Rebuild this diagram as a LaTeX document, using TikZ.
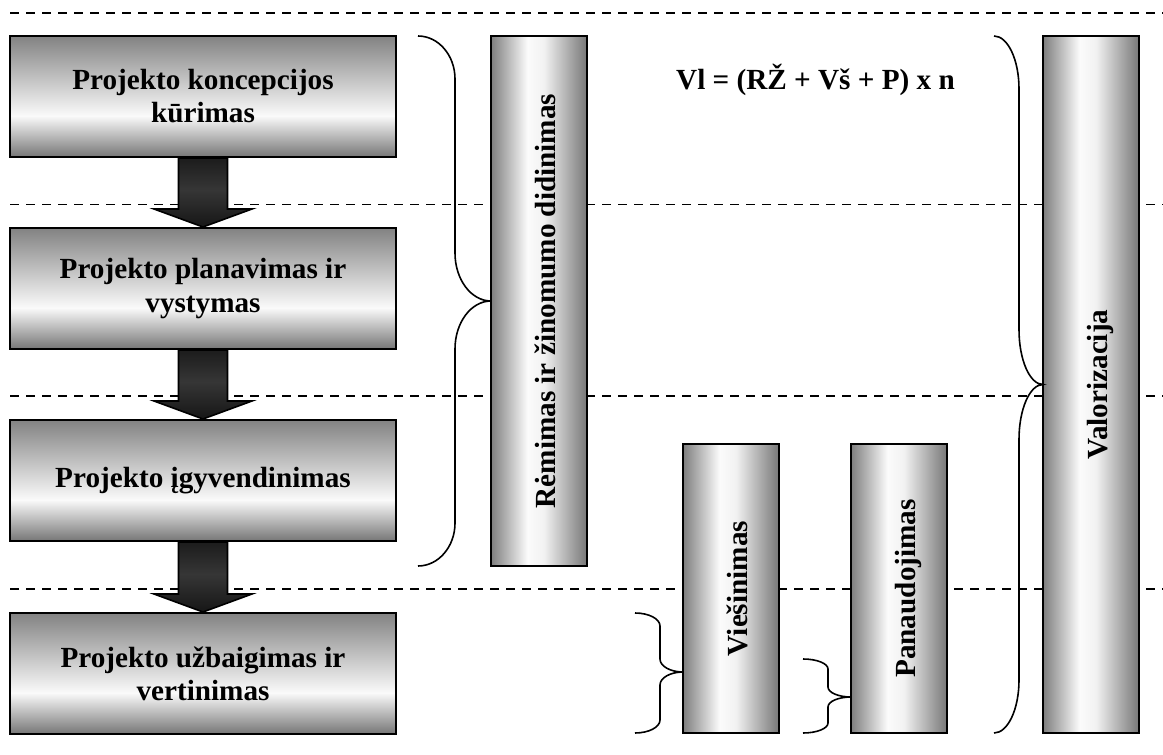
\documentclass[tikz,border=0pt]{standalone}
\usepackage{fontspec}
\setmainfont{Liberation Serif}
\usetikzlibrary{calc}

% gray tones of the stage boxes (vertical gradient)
\definecolor{boxtop}{HTML}{828282}
\definecolor{boxmid}{HTML}{FAFAFA}
\definecolor{boxbot}{HTML}{767676}
% gray tones of the vertical bars (horizontal gradient)
\definecolor{barleft}{HTML}{7E7E7E}
\definecolor{barmid}{HTML}{FBFBFB}
\definecolor{barmidb}{HTML}{F2F2F2}
\definecolor{barright}{HTML}{777777}
% dark block arrows
\definecolor{arrtop}{HTML}{1C1C1C}
\definecolor{arrmid}{HTML}{363636}
\definecolor{arrbot}{HTML}{161616}

\pgfdeclareverticalshading{boxshade}{100bp}{color(0bp)=(boxbot); color(25bp)=(boxbot); color(42bp)=(boxmid); color(75bp)=(boxtop); color(100bp)=(boxtop)}
\pgfdeclarehorizontalshading{barshade}{100bp}{color(0bp)=(barleft); color(25bp)=(barleft); color(44bp)=(barmid); color(52.5bp)=(barmidb); color(75bp)=(barright); color(100bp)=(barright)}
\pgfdeclareverticalshading{arrowshade}{100bp}{color(0bp)=(arrbot); color(25bp)=(arrbot); color(52bp)=(arrmid); color(75bp)=(arrtop); color(100bp)=(arrtop)}

\tikzset{
  stagebox/.style={draw=black, line width=1.5pt, shading=boxshade,
    minimum width=289.5pt, minimum height=90.75pt, inner sep=0pt, align=center},
  phasebar/.style={draw=black, line width=1.5pt, shading=barshade,
    minimum width=72pt, inner sep=0pt},
  vlabel/.style={rotate=90, anchor=base, inner sep=0pt},
  blockarrow/.style={draw=black, line width=1.2pt, shading=arrowshade},
  guide/.style={draw=black, line width=1.1pt, dash pattern=on 7pt off 5pt},
  bracestyle/.style={draw=black, line width=1.2pt},
}

% curly brace opening to the right:
% #1 outer x, #2 spine x, #3 tip x, #4 top y, #5 tip y, #6 bottom y,
% #7 end curl height, #8 tip curl height
\newcommand{\curlybrace}[8]{%
  \draw[bracestyle] (#1,#4)
    .. controls ({#1+0.552*(#2-#1)},#4) and (#2,{#4+0.448*#7}) .. (#2,{#4+#7})
    -- (#2,{#5-#8})
    .. controls (#2,{#5-0.448*#8}) and ({#3-0.552*(#3-#2)},#5) .. (#3,#5)
    .. controls ({#3-0.552*(#3-#2)},#5) and (#2,{#5+0.448*#8}) .. (#2,{#5+#8})
    -- (#2,{#6-#7})
    .. controls (#2,{#6-0.448*#7}) and ({#1+0.552*(#2-#1)},#6) .. (#1,#6);%
}

% block arrow from the bottom of one stage to the top of the next
\newcommand{\stagearrow}[2]{%
  \draw[blockarrow] ($(#1.south)+(-24.5,0)$) -- ($(#2.north)+(-24.5,-18)$)
    -- ($(#2.north)+(-49,-18)$) -- (#2.north) -- ($(#2.north)+(49,-18)$)
    -- ($(#2.north)+(24.5,-18)$) -- ($(#1.south)+(24.5,0)$) -- cycle;%
}

\begin{document}
\begin{tikzpicture}[x=0.75pt, y=-0.75pt,
  font=\bfseries\fontsize{21.9pt}{24.8pt}\selectfont]
\useasboundingbox (0,0) rectangle (1163,755);

% phase separators
\draw[guide] (10,13) -- (1163,13);
\draw[guide] (10,204.5) -- (1163,204.5);
\draw[guide] (10,396) -- (1163,396);
\draw[guide] (10,589) -- (1163,589);

% project stages
\node[stagebox] (s1) at (203,96.5)  {Projekto koncepcijos\\kūrimas};
\node[stagebox] (s2) at (203,288.5) {Projekto planavimas ir\\vystymas};
\node[stagebox] (s3) at (203,480.5) {Projekto įgyvendinimas};
\node[stagebox] (s4) at (203,673.5) {Projekto užbaigimas ir\\vertinimas};

\stagearrow{s1}{s2}
\stagearrow{s2}{s3}
\stagearrow{s3}{s4}

% activity bars
\node[phasebar, minimum height=397.5pt] (rem) at (539,301) {};
\node[phasebar, minimum height=216.75pt] (vies) at (731,588.5) {};
\node[phasebar, minimum height=216.75pt] (pan) at (899,588.5) {};
\node[phasebar, minimum height=522.75pt] (val) at (1091,384.5) {};

\node[vlabel] (remlabel) at ($(rem.center)+(16.5,0)$) {Rėmimas ir žinomumo didinimas};
\node[vlabel] (vieslabel) at ($(vies.center)+(16.5,0)$) {Viešinimas};
\node[vlabel] (panlabel) at ($(pan.center)+(16.5,0)$) {Panaudojimas};
\node[vlabel] (vallabel) at ($(val.center)+(16.5,0)$) {Valorizacija};

% braces grouping the stages
\curlybrace{418}{455}{491}{36}{301}{566}{43}{48}
\curlybrace{994}{1019}{1043}{36}{384.5}{733}{53}{55}
\curlybrace{635}{660}{683}{613}{672}{733}{13}{13}
\curlybrace{803}{828}{851}{659}{697}{733}{10}{10}

% valorisation formula
\node[anchor=base] (formula) at (815.5,90) {Vl = (RŽ + Vš + P) x n};
\end{tikzpicture}
\end{document}
